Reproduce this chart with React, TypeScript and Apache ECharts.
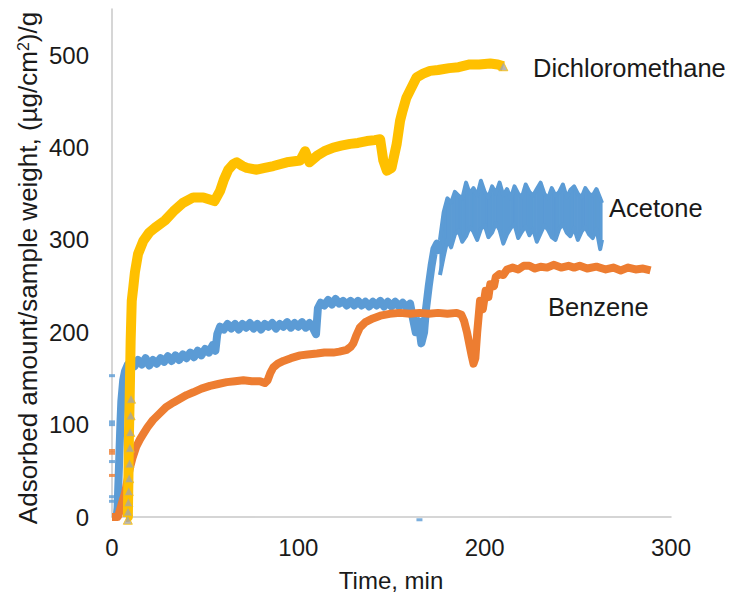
import React, { useEffect, useRef } from "react";
import * as echarts from "echarts";

// ---- Data (time in min, adsorbed amount in (µg/cm²)/g) ----
const xTicks = [0, 100, 200, 300];
const yTicks = [0, 100, 200, 300, 400, 500];

// Acetone: before the final noisy plateau
const acetone: [number, number][] = [
  [2.5, 0], [3, 10], [3.5, 40], [4, 70], [4.5, 100], [5, 125], [6, 148], [7, 158], [8.5, 165], [10, 168],
  [12, 163], [14, 170], [16, 165], [18, 172], [20, 164], [22, 170], [24, 166], [26, 172], [28, 168], [30, 174],
  [32, 169], [34, 175], [36, 170], [38, 176], [40, 172], [42, 178], [44, 173], [46, 180], [48, 175], [50, 182],
  [52, 178], [54, 186], [55.5, 180], [56.5, 198], [58, 206], [60, 203], [62, 209], [64, 204], [66, 209], [68, 203],
  [70, 209], [72, 205], [74, 210], [76, 204], [78, 209], [80, 203], [82, 209], [84, 206], [86, 210], [88, 204],
  [90, 209], [92, 206], [94, 211], [96, 205], [98, 210], [100, 206], [102, 211], [104, 205], [106, 210], [108, 204],
  [109.5, 198], [110.5, 226], [112, 232], [114, 229], [116, 235], [118, 230], [120, 236], [122, 231], [124, 234],
  [126, 229], [128, 234], [130, 229], [132, 234], [134, 229], [136, 233], [138, 228], [140, 233], [142, 229],
  [144, 234], [146, 228], [148, 233], [150, 228], [152, 233], [154, 228], [156, 232], [158, 227], [160, 231],
  [161.5, 215], [163, 200], [164.5, 212], [166, 188], [167.5, 200], [168.5, 225], [170, 250], [171.5, 272],
  [173, 290], [174.5, 296], [176, 285],
];

// Acetone: noisy plateau drawn as a band (lower and upper envelope)
const acetoneBandTime = [
  176, 178, 180, 182, 184, 186, 188, 190, 192, 194, 196, 198, 200, 202, 204, 206, 208, 210, 212, 214, 216, 218,
  220, 222, 224, 226, 228, 230, 232, 234, 236, 238, 240, 242, 244, 246, 248, 250, 252, 254, 256, 258, 260, 262, 263,
];
const acetoneBandUpper = [
  300, 330, 345, 340, 352, 348, 345, 362, 350, 356, 348, 364, 352, 346, 358, 350, 362, 348, 355, 345, 358, 350,
  346, 360, 352, 348, 355, 362, 350, 345, 356, 348, 352, 360, 346, 354, 358, 350, 346, 356, 350, 348, 355, 345, 340,
];
const acetoneBandLower = [
  262, 282, 300, 292, 306, 310, 298, 304, 314, 309, 300, 312, 316, 303, 308, 318, 311, 296, 306, 313, 317, 302,
  309, 315, 305, 312, 298, 307, 316, 311, 303, 300, 312, 317, 308, 304, 313, 300, 309, 314, 306, 302, 312, 290, 300,
];

const acetoneOutliers: [number, number][] = [
  [0, 153], [0, 103], [0, 100], [0, 60], [0, 22], [0, 17], [165, -3],
];

const benzene: [number, number][] = [
  [0, 0], [1, 0], [2, 0], [3, 0], [3.5, 2], [4.3, 8], [5.5, 16], [7, 26], [8.5, 42], [9.7, 54], [11, 64],
  [13, 76], [15, 84], [16.8, 90], [19, 97], [22, 105], [25, 111], [29, 119], [33, 124], [36.5, 128], [40, 132],
  [43.6, 135], [48, 139], [52.6, 142], [57, 144], [61.6, 146], [66, 147], [70.5, 148], [75, 147], [79.4, 147],
  [82, 145], [83.5, 148], [85, 156], [86.6, 162], [89, 166], [92, 169], [96, 172], [101, 175], [105, 176],
  [110, 177], [114, 178], [118.8, 178], [122, 179], [126, 181], [128, 184], [129.5, 188], [131, 196], [133, 205],
  [136, 211], [140, 215], [144, 218], [149, 220], [154.6, 221], [160, 220], [165, 221], [170, 220], [175, 221],
  [180, 220], [185, 221], [187.5, 219], [189, 212], [190.5, 200], [192, 185], [193, 175], [194, 166], [195, 172],
  [196, 200], [197.5, 234], [199, 225], [200.5, 245], [202, 238], [203, 252], [205, 250], [206, 260], [208, 263],
  [210, 262], [212, 268], [215, 270], [218, 268], [221, 272], [224, 272], [227, 269], [230, 271], [233.5, 270],
  [237, 273], [241, 270], [245, 272], [248, 270], [251, 272], [255, 269], [260, 271], [265, 268], [269, 270],
  [273, 267], [277, 270], [281, 268], [285, 269], [289, 267],
];

const benzeneOutliers: [number, number][] = [[0, 72], [0, 69], [0, 45]];

const dichloromethane: [number, number][] = [
  [7.5, 0], [8.5, 0], [8.8, 40], [9.1, 90], [9.5, 130], [10, 190], [10.6, 234], [11.5, 250], [12.3, 265],
  [14, 285], [16.8, 299], [20, 308], [23, 313], [28.4, 321], [33, 331], [38, 340], [43.6, 346], [49, 346],
  [52, 344], [55, 342], [58, 353], [60, 365], [62.4, 376], [65, 382], [67, 384], [70, 380], [72.3, 378],
  [77.7, 376], [82, 378], [86.6, 380], [93.8, 384], [101, 386], [103.6, 396], [106, 384], [110, 391], [114, 396],
  [118.8, 400], [123, 402], [127.8, 404], [132, 405], [136.7, 407], [141, 408], [143.9, 409], [145.6, 386],
  [147.5, 375], [150, 378], [152.8, 404], [154.6, 429], [156, 440], [158, 454], [160, 462], [163.5, 476],
  [167, 480], [170.7, 483], [175, 484], [181, 486], [186, 487], [192, 490], [197, 490], [203, 491], [207, 490],
  [210, 488],
];

const grayMarkers: [number, number][] = [
  [8.5, -3], [8.6, 6], [8.8, 16], [9, 28], [9.2, 42], [9.4, 58], [9.6, 75], [9.8, 92], [10, 110], [10.2, 128],
  [210, 488],
];

const seriesLabels = [
  { text: "Dichloromethane", x: 533, y: 68 },
  { text: "Acetone", x: 609, y: 208 },
  { text: "Benzene", x: 548, y: 307 },
];

const FONT = "'Liberation Sans', Arial, sans-serif";
const BLUE = "#5B9BD5";
const ORANGE = "#ED7D31";
const YELLOW = "#FFC000";
const GRAY = "#A5A5A5";
const TEXT = "#1a1a1a";

export default function App() {
  const ref = useRef<HTMLDivElement>(null);

  useEffect(() => {
    if (!ref.current) return;
    const chart = echarts.init(ref.current, undefined, { renderer: "svg" });
    const axisLine = { show: true, lineStyle: { color: "#c8c8c8", width: 1.5 } };
    const bandData = acetoneBandTime.map((t, i) => [t, acetoneBandLower[i], acetoneBandUpper[i]]);
    const bandLowerLine = acetoneBandTime.map((t, i) => [t, acetoneBandLower[i]]);
    const bandUpperLine = acetoneBandTime.map((t, i) => [t, acetoneBandUpper[i]]);
    chart.setOption({
      animation: false,
      backgroundColor: "#ffffff",
      textStyle: { fontFamily: FONT },
      grid: { left: 112, right: 59, top: 9, bottom: 84, containLabel: false },
      xAxis: {
        type: "value",
        min: xTicks[0],
        max: xTicks[xTicks.length - 1],
        interval: 100,
        axisLine,
        axisTick: { show: false },
        splitLine: { show: false },
        axisLabel: { fontSize: 24, color: TEXT, margin: 18, fontFamily: FONT },
      },
      yAxis: {
        type: "value",
        min: yTicks[0],
        max: 550,
        interval: 100,
        axisLine,
        axisTick: { show: false },
        splitLine: { show: false },
        axisLabel: {
          fontSize: 24,
          color: TEXT,
          margin: 23,
          fontFamily: FONT,
          formatter: (v: number) => (yTicks.includes(v) ? String(v) : ""),
        },
      },
      series: [
        {
          name: "Acetone",
          type: "line",
          data: acetone,
          showSymbol: false,
          clip: false,
          lineStyle: { color: BLUE, width: 8, join: "round" },
          z: 2,
        },
        {
          name: "Acetone band",
          type: "custom",
          data: bandData,
          encode: { x: 0, y: [1, 2] },
          clip: false,
          z: 2,
          renderItem: (params: any, api: any) => {
            const i = params.dataIndexInside;
            if (i >= params.dataInsideLength - 1) return null;
            const t0 = api.value(0, i);
            const t1 = api.value(0, i + 1);
            const pts = [
              api.coord([t0, api.value(1, i)]),
              api.coord([t1, api.value(1, i + 1)]),
              api.coord([t1, api.value(2, i + 1)]),
              api.coord([t0, api.value(2, i)]),
            ];
            return {
              type: "polygon",
              shape: { points: pts },
              style: { fill: BLUE, stroke: BLUE, lineWidth: 1 },
            };
          },
        },
        {
          name: "Acetone band low",
          type: "line",
          data: bandLowerLine,
          showSymbol: false,
          clip: false,
          lineStyle: { color: BLUE, width: 4, join: "round" },
          z: 2,
        },
        {
          name: "Acetone band high",
          type: "line",
          data: bandUpperLine,
          showSymbol: false,
          clip: false,
          lineStyle: { color: BLUE, width: 4, join: "round" },
          z: 2,
        },
        {
          name: "Acetone outliers",
          type: "scatter",
          data: acetoneOutliers,
          symbol: "rect",
          symbolSize: [6, 3],
          clip: false,
          itemStyle: { color: BLUE },
          z: 2,
        },
        {
          name: "Benzene",
          type: "line",
          data: benzene,
          showSymbol: false,
          clip: false,
          lineStyle: { color: ORANGE, width: 8, join: "round" },
          z: 3,
        },
        {
          name: "Benzene outliers",
          type: "scatter",
          data: benzeneOutliers,
          symbol: "rect",
          symbolSize: [6, 3],
          clip: false,
          itemStyle: { color: ORANGE },
          z: 3,
        },
        {
          name: "Dichloromethane",
          type: "line",
          data: dichloromethane,
          showSymbol: false,
          clip: false,
          lineStyle: { color: YELLOW, width: 10, join: "round" },
          z: 4,
        },
        {
          name: "Markers",
          type: "scatter",
          data: grayMarkers,
          symbol: "triangle",
          symbolSize: 9,
          clip: false,
          itemStyle: { color: GRAY, borderColor: YELLOW, borderWidth: 1 },
          z: 5,
        },
      ],
      graphic: [
        ...seriesLabels.map((l) => ({
          type: "text",
          x: l.x,
          y: l.y,
          style: {
            text: l.text,
            fontSize: 25.5,
            fontFamily: FONT,
            fill: TEXT,
            textAlign: "left",
            textVerticalAlign: "middle",
          },
        })),
        {
          type: "text",
          x: 391,
          y: 580,
          style: {
            text: "Time, min",
            fontSize: 24,
            fontFamily: FONT,
            fill: TEXT,
            textAlign: "center",
            textVerticalAlign: "middle",
          },
        },
        {
          type: "text",
          x: 28,
          y: 268,
          rotation: Math.PI / 2,
          style: {
            text: "{a|Adsorbed amount/sample weight, (µg/cm}{s|2}{a|)/g}",
            fontFamily: FONT,
            fill: TEXT,
            textAlign: "center",
            textVerticalAlign: "middle",
            rich: {
              a: { fontSize: 26, fontFamily: FONT, fill: TEXT, color: TEXT, verticalAlign: "bottom" },
              s: { fontSize: 16, fontFamily: FONT, fill: TEXT, color: TEXT, verticalAlign: "top" },
            },
          },
        },
      ],
    });
    return () => chart.dispose();
  }, []);

  return (
    <div
      ref={ref}
      style={{ position: "absolute", left: 0, top: 0, width: 730, height: 601 }}
    />
  );
}
